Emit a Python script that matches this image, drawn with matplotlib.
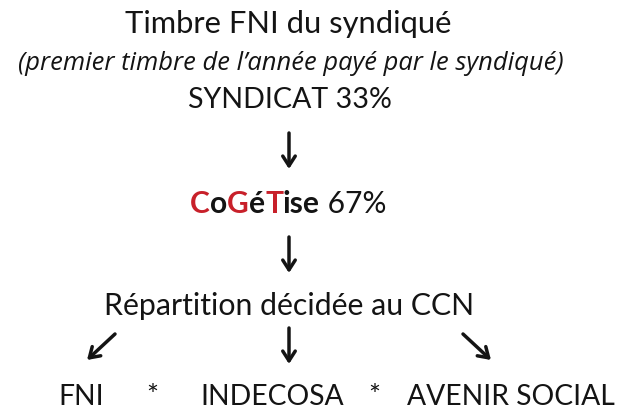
import matplotlib
matplotlib.use("Agg")
import matplotlib.pyplot as plt

plt.rcParams['font.family'] = ['Lato', 'DejaVu Sans']

# Texte du schéma
titre = "Timbre FNI du syndiqué"
sous_titre = "(premier timbre de l’année payé par le syndiqué)"
syndicat = "SYNDICAT 33%"
cogetise_parts = ["C", "o", "G", "é", "T", "ise"]
cogetise_rouge = [True, False, True, False, True, False]
cogetise_pct = " 67%"
repartition = "Répartition décidée au CCN"
destinataires = ["FNI", "*", "INDECOSA", "*", "AVENIR SOCIAL"]
dest_x = [58, 146, 200, 368, 407]

noir = '#141414'
rouge = '#c8202a'

fig = plt.figure(figsize=(6.18, 4.09), dpi=100)
ax = fig.add_axes([0, 0, 1, 1])
ax.set_xlim(0, 618)
ax.set_ylim(409, 0)
ax.axis('off')

cx = 289

ax.text(cx - 1, 33, titre, ha='center', va='baseline', fontsize=22.2, color=noir)
ax.text(cx + 2, 70, sous_titre, ha='center', va='baseline', fontsize=18.4,
        style='italic', color=noir, family=['Open Sans', 'DejaVu Sans'])
ax.text(cx + 1, 108, syndicat, ha='center', va='baseline', fontsize=20.6, color=noir)

# CoGéTise en couleurs, morceau par morceau
fig.canvas.draw()
r = fig.canvas.get_renderer()
x = 190
inv = ax.transData.inverted()
for part, red in zip(cogetise_parts + [cogetise_pct], cogetise_rouge + [False]):
    bold = part != cogetise_pct
    t = ax.text(x, 213, part, ha='left', va='baseline', fontsize=21.6,
                fontweight='bold' if bold else 'normal',
                color=rouge if red else noir)
    bb = t.get_window_extent(renderer=r)
    x = inv.transform((bb.x1, bb.y0))[0]

ax.text(cx, 315, repartition, ha='center', va='baseline', fontsize=21.8, color=noir)

for label, xx in zip(destinataires, dest_x):
    ax.text(xx, 405, label, ha='left', va='baseline', fontsize=20.3, color=noir)

# Flèches
arrows = [((cx, 133), (cx, 169)), ((cx, 237), (cx, 273)),
          ((cx, 328), (cx, 364)), ((115, 334), (87, 360)), ((463, 334), (491, 360))]
for (x0, y0), (x1, y1) in arrows:
    ax.annotate('', xy=(x1, y1), xytext=(x0, y0),
                arrowprops=dict(arrowstyle='->,head_length=0.7,head_width=0.45',
                                lw=2.5, color=noir, shrinkA=0, shrinkB=0))

fig.savefig('out.png', dpi=100, facecolor='white')
